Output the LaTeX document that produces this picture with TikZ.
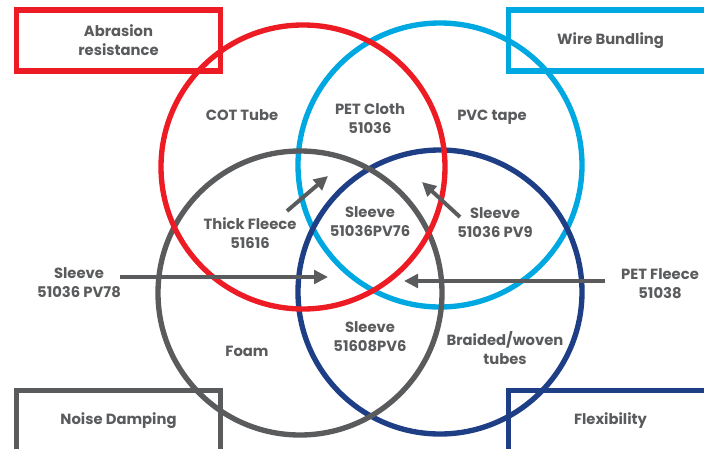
\documentclass[tikz,border=0pt]{standalone}
\usepackage{fontspec}
\setmainfont{Poppins}
\usepackage{tikz}
\usetikzlibrary{arrows.meta}
\definecolor{vred}{HTML}{ED1C24}
\definecolor{vlblue}{HTML}{00A8E1}
\definecolor{vdblue}{HTML}{1E3F85}
\definecolor{vgray}{HTML}{5A5B5D}

\begin{document}
\begin{tikzpicture}[lbl/.style={text=vgray,font=\bfseries\fontsize{10.5}{13.5}\selectfont,align=center},
	tag box/.style={lbl,draw,line width=3.8pt,minimum width=5.1cm,minimum height=1.525cm},
	ring/.style={line width=3.8pt},
	pointer/.style={draw=vgray,line width=2.8pt,-{Triangle[length=0.35cm,width=0.34cm]}}]

\useasboundingbox (0,0) rectangle (17.6,-11.225);

\draw[ring,vlblue] (11,-4.125) circle [radius=3.55];
\draw[ring,vdblue] (11,-7.3) circle [radius=3.55];
\draw[ring,vgray] (7.5,-7.325) circle [radius=3.55];
\draw[ring,vred] (7.575,-4.175) circle [radius=3.55];

\node at (2.9625,-1.0125) [tag box,draw=vred] (abrasion) {Abrasion\\resistance};
\node at (15.2625,-1.0125) [tag box,draw=vlblue] (bundling) {Wire Bundling};
\node at (2.9625,-10.525) [tag box,draw=vgray] (damping) {Noise Damping};
\node at (15.2625,-10.525) [tag box,draw=vdblue] (flex) {Flexibility};

\node at (6.05,-2.875) [lbl] (cot) {COT Tube};
\node at (9.25,-2.975) [lbl] (cloth) {PET Cloth\\51036};
\node at (12.3,-2.925) [lbl] (pvc) {PVC tape};
\node at (6.25,-5.825) [lbl] (thick) {Thick Fleece\\51616};
\node at (9.25,-5.55) [lbl] (pv76) {Sleeve\\51036PV76};
\node at (12.375,-5.575) [lbl] (pv9) {Sleeve\\51036 PV9};
\node at (1.975,-7.075) [lbl] (pv78) {Sleeve\\51036 PV78};
\node at (16.5,-7.1) [lbl] (fleece) {PET Fleece\\51038};
\node at (9.25,-8.425) [lbl] (pv6) {Sleeve\\51608PV6};
\node at (6.175,-8.775) [lbl] (foam) {Foam};
\node at (12.625,-8.7) [lbl] (braided) {Braided/woven\\tubes};

% arrow ends
\coordinate (thick tail) at (7.175,-5.275);
\coordinate (thick tip) at (8.2,-4.4);
\coordinate (pv9 tail) at (11.5,-5.425);
\coordinate (pv9 tip) at (10.55,-4.55);
\coordinate (pv78 tail) at (3.0,-6.925);
\coordinate (pv78 tip) at (8.2,-6.925);
\coordinate (fleece tail) at (15.125,-7.025);
\coordinate (fleece tip) at (10.1,-7.025);

\draw[pointer] (thick tail) -- (thick tip);
\draw[pointer] (pv9 tail) -- (pv9 tip);
\draw[pointer] (pv78 tail) -- (pv78 tip);
\draw[pointer] (fleece tail) -- (fleece tip);

\end{tikzpicture}
\end{document}
